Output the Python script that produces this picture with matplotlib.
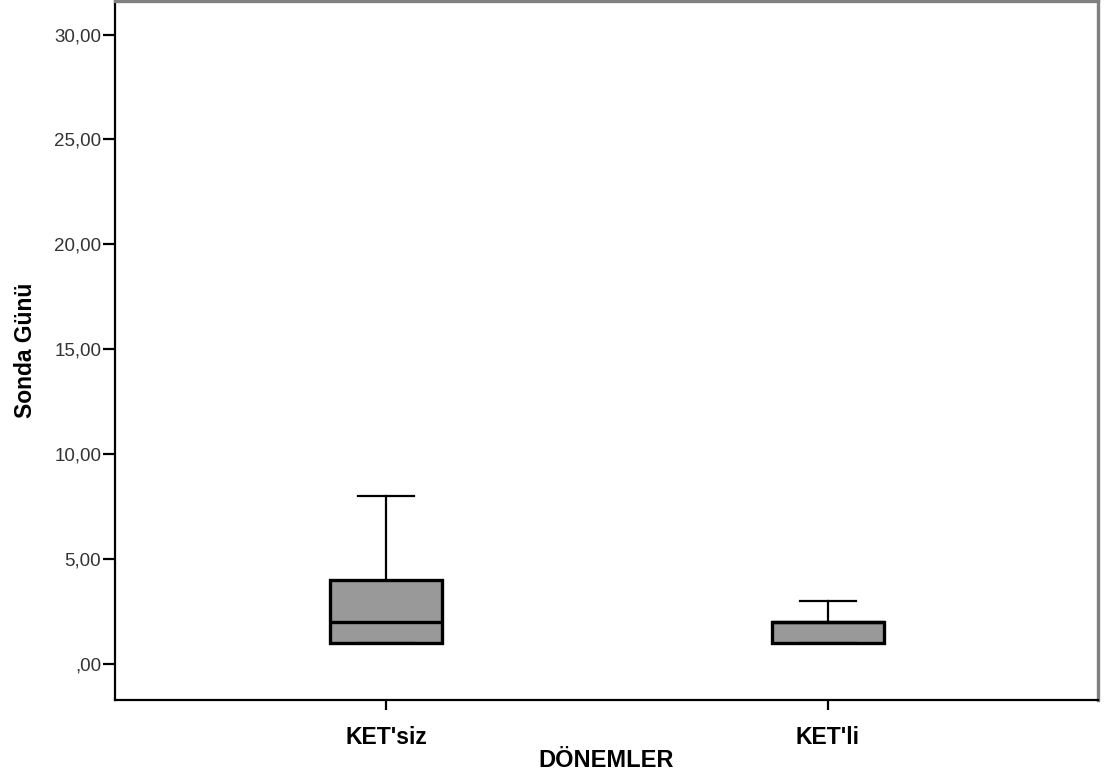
import matplotlib
matplotlib.use("Agg")
import matplotlib.pyplot as plt

plt.rcParams['font.family'] = ['Liberation Sans', 'DejaVu Sans']

# box summary stats
groups = ["KET'siz", "KET'li"]
q1 = [1.0, 1.0]
med = [2.0, 2.0]
q3 = [4.0, 2.0]
whislo = [1.0, 1.0]
whishi = [8.0, 3.0]
yticks = [0, 5, 10, 15, 20, 25, 30]
ylabels = [",00", "5,00", "10,00", "15,00", "20,00", "25,00", "30,00"]

stats = []
for i, g in enumerate(groups):
    stats.append({"label": g, "q1": q1[i], "med": med[i], "q3": q3[i],
                  "whislo": whislo[i], "whishi": whishi[i], "fliers": []})

fig = plt.figure(figsize=(11.06, 7.78), dpi=100)
ax = fig.add_axes([0.104, 0.1003, 0.8888, 0.8984])

ax.bxp(stats, positions=[0, 1], widths=0.253, patch_artist=True,
       boxprops=dict(facecolor="#999999", edgecolor="black", linewidth=2.4),
       medianprops=dict(color="black", linewidth=2.4),
       whiskerprops=dict(color="black", linewidth=1.6),
       capprops=dict(color="black", linewidth=1.6),
       capwidths=0.125, showfliers=False)

ax.set_xlim(-0.613, 1.611)
ax.set_ylim(-1.72, 31.6)
ax.set_yticks(yticks)
ax.set_yticklabels(ylabels, fontsize=13.5, color="#333333")
ax.set_xticks([0, 1])
ax.set_xticklabels(groups, fontsize=16.5, fontweight="bold")
ax.tick_params(axis="y", direction="out", length=9, width=1.6, pad=1)
ax.tick_params(axis="x", direction="out", length=7, width=1.6, pad=12)

for s in ["left", "bottom"]:
    ax.spines[s].set_color("black")
    ax.spines[s].set_linewidth(1.6)
for s in ["top", "right"]:
    ax.spines[s].set_color("#808080")
    ax.spines[s].set_linewidth(2.4)

ax.set_xlabel("DÖNEMLER", fontsize=17, fontweight="bold", labelpad=0)
ax.set_ylabel("Sonda Günü", fontsize=16.5, fontweight="bold", labelpad=12)

fig.savefig("out.png", dpi=100)
